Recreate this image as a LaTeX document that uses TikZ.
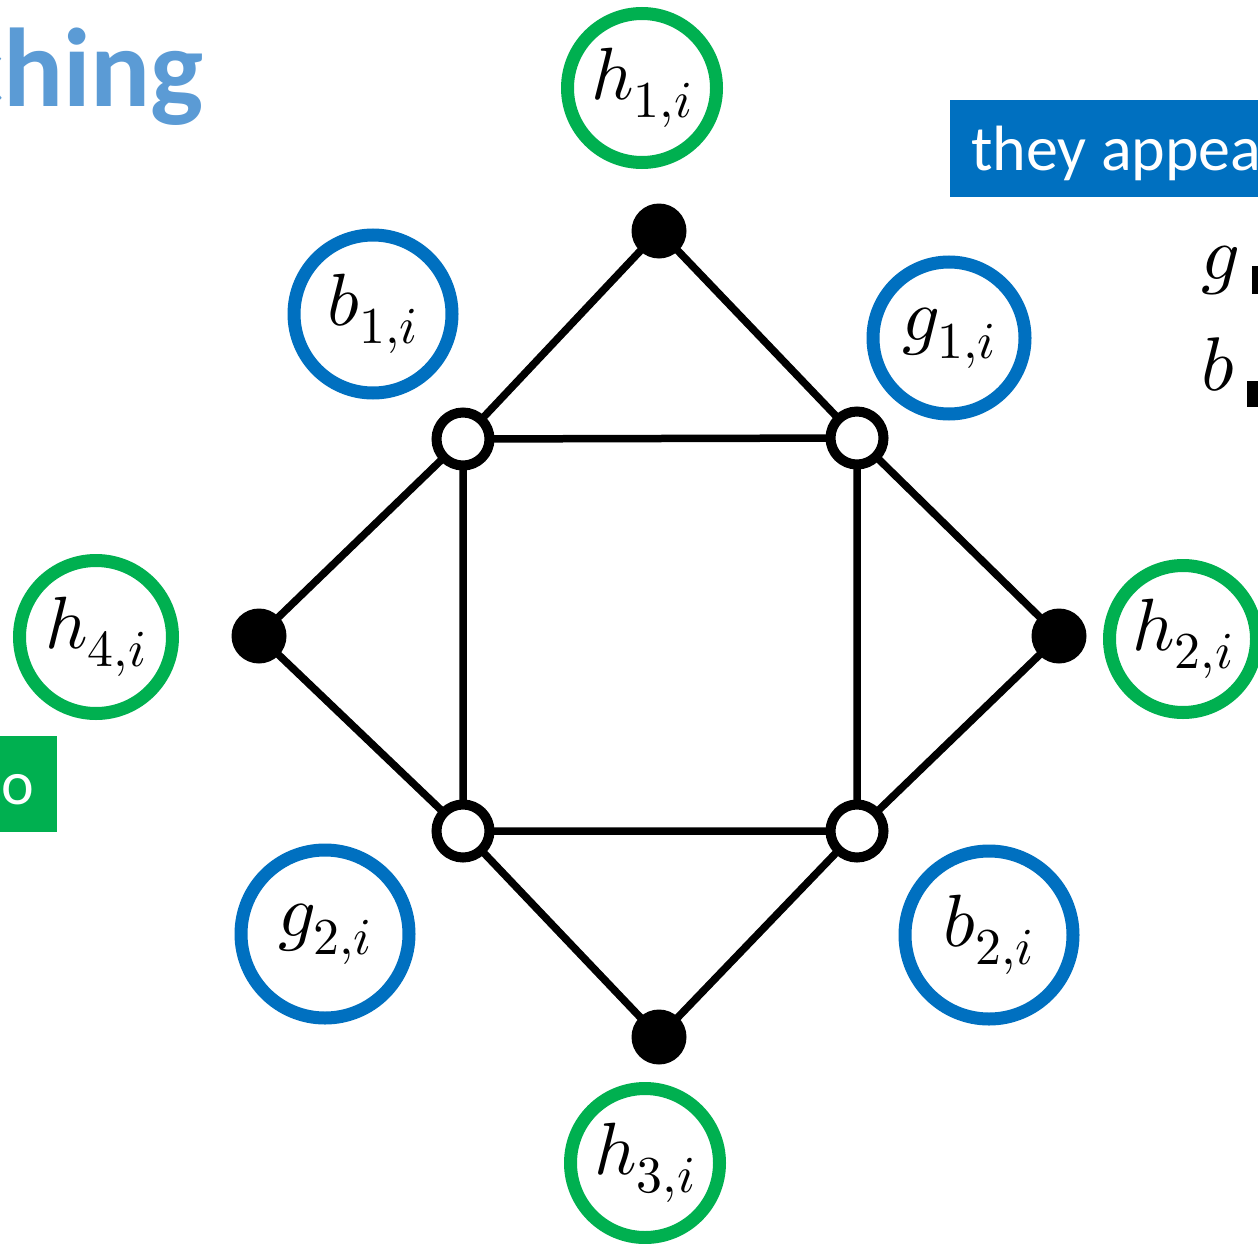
\documentclass[tikz,border=0pt]{standalone}
\usepackage{fontspec}
\usepackage{unicode-math}
\setmainfont{Carlito}
\definecolor{rgreen}{HTML}{00B050}
\definecolor{rblue}{HTML}{0070C0}
\definecolor{lblue}{HTML}{5B9BD5}
\tikzset{
  edge/.style={line width=7.5pt, black},
  blackdot/.style={circle, fill=black, minimum size=55pt, inner sep=0pt},
  opendot/.style={circle, draw=black, fill=white, line width=10pt, minimum size=53pt, inner sep=0pt},
  ring/.style={circle, fill=white, line width=13pt, inner sep=0pt, font=\fontsize{74}{80}\selectfont},
  greenring/.style={ring, draw=rgreen},
  bluering/.style={ring, draw=rblue},
}
\begin{document}
\begin{tikzpicture}[x=1pt, y=-1pt]
\useasboundingbox (0,0) rectangle (1258,1244);
\fill[white] (0,0) rectangle (1258,1244);
\clip (0,0) rectangle (1258,1244);

% partial texts
\node[anchor=base west, inner sep=0pt, text=lblue, font=\fontsize{112}{120}\selectfont\bfseries] (title) at (-44,107) {ching};
\node[anchor=north west, fill=rblue, minimum width=330pt, minimum height=97pt, inner sep=0pt] (bluebox) at (950,100) {};
\node[anchor=base west, inner sep=0pt, text=white, font=\fontsize{64}{70}\selectfont] (bluetext) at (971,171) {they appea};
\node[anchor=north east, fill=rgreen, minimum width=80pt, minimum height=96pt, inner sep=0pt] (greenbox) at (57,736) {};
\node[anchor=base west, inner sep=0pt, text=white, font=\fontsize{62}{70}\selectfont] (greentext) at (1,804) {o};
\node[anchor=base west, inner sep=0pt, font=\fontsize{76}{80}\selectfont] (gtxt) at (1201,279) {$g$};
\node[anchor=base west, inner sep=0pt, font=\fontsize{76}{80}\selectfont] (btxt) at (1201,390) {$b$};
\fill[black] (1252,266) rectangle (1260,294);
\fill[black] (1247,381) rectangle (1260,407);

% graph vertices
\node[blackdot] (t) at (659,231) {};
\node[blackdot] (l) at (259,636) {};
\node[blackdot] (r) at (1059,636) {};
\node[blackdot] (bo) at (659,1037) {};
\coordinate (ul) at (463,439);
\coordinate (ur) at (857,438);
\coordinate (ll) at (463,831);
\coordinate (lr) at (857,831);

\draw[edge] (t.center) -- (ul) (t.center) -- (ur);
\draw[edge] (l.center) -- (ul) (l.center) -- (ll);
\draw[edge] (r.center) -- (ur) (r.center) -- (lr);
\draw[edge] (bo.center) -- (ll) (bo.center) -- (lr);
\draw[edge] (ul) -- (ur) -- (lr) -- (ll) -- cycle;

\node[opendot] (ulo) at (ul) {};
\node[opendot] (uro) at (ur) {};
\node[opendot] (llo) at (ll) {};
\node[opendot] (lro) at (lr) {};

% labels
\node[greenring, minimum size=149pt] (h1) at (642,88) {$h_{1,i}$};
\node[greenring, minimum size=147pt] (h2) at (1183,639) {$h_{2,i}$};
\node[greenring, minimum size=149pt] (h3) at (645,1163) {$h_{3,i}$};
\node[greenring, minimum size=153pt] (h4) at (96,637) {$h_{4,i}$};
\node[bluering, minimum size=158pt] (b1) at (373,314) {$b_{1,i}$};
\node[bluering, minimum size=152pt] (g1) at (949,338) {$g_{1,i}$};
\node[bluering, minimum size=168pt] (g2) at (325,934) {$g_{2,i}$};
\node[bluering, minimum size=168pt] (b2) at (989,935) {$b_{2,i}$};
\end{tikzpicture}
\end{document}
